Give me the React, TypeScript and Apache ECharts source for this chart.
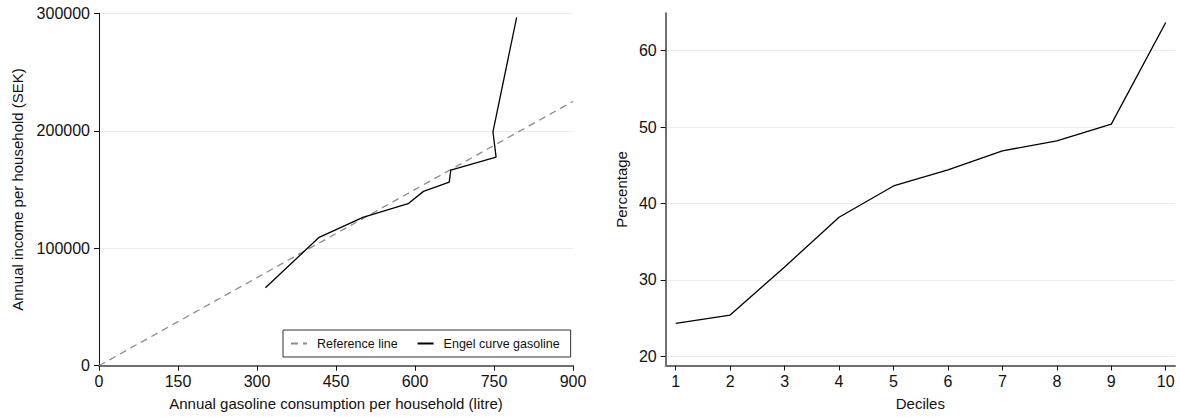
import React, { useEffect, useRef } from "react";
import * as echarts from "echarts";

const refLine: [number, number][] = [
  [0, 0],
  [900, 225000],
];
const engelX = [316, 418, 501, 587, 616, 665, 668, 754, 748, 793];
const engelY = [66400, 109300, 126300, 137900, 148400, 156300, 166500, 177600, 199100, 296500];

const deciles = [1, 2, 3, 4, 5, 6, 7, 8, 9, 10];
const percentage = [24.3, 25.4, 31.7, 38.2, 42.3, 44.4, 46.9, 48.2, 50.4, 63.7];
const pctTicks = [20, 30, 40, 50, 60];

const FONT = "Liberation Sans, Arial, Helvetica, sans-serif";
const GRID_COLOR = "#ececec";
const AXIS_GRAY = "#707070";

export default function App() {
  const ref = useRef<HTMLDivElement>(null);
  useEffect(() => {
    if (!ref.current) return;
    const chart = echarts.init(ref.current, undefined, { renderer: "svg" });
    const engel = engelX.map((x, i) => [x, engelY[i]]);
    const pct = deciles.map((d, i) => [d, percentage[i]]);
    const plain = (v: number) => String(v);
    const tickLabel = { color: "#111", fontSize: 16, fontFamily: FONT, formatter: plain };
    const nameStyle = { color: "#111", fontSize: 15, fontFamily: FONT };
    chart.setOption({
      animation: false,
      backgroundColor: "#fff",
      textStyle: { fontFamily: FONT },
      grid: [
        { left: 99, right: 607, top: 13.3, bottom: 51.3, containLabel: false },
        { left: 665.7, right: 5, top: 13.3, bottom: 51.5, containLabel: false },
      ],
      legend: {
        left: 283,
        top: 330,
        padding: [7, 11, 7, 7],
        itemGap: 19,
        itemWidth: 16,
        itemHeight: 10,
        borderColor: "#333",
        borderWidth: 1,
        itemStyle: { opacity: 0 },
        textStyle: { color: "#111", fontSize: 12.5, fontFamily: FONT, padding: [0, 0, 0, 5] },
        data: ["Reference line", "Engel curve gasoline"],
      },
      xAxis: [
        {
          type: "value",
          gridIndex: 0,
          min: 0,
          max: 900,
          interval: 150,
          name: "Annual gasoline consumption per household (litre)",
          nameLocation: "middle",
          nameGap: 30,
          nameTextStyle: nameStyle,
          axisLine: { show: true, lineStyle: { color: AXIS_GRAY, width: 2 } },
          axisTick: { show: true, length: 5, lineStyle: { color: "#111" } },
          axisLabel: { ...tickLabel, margin: 8 },
          splitLine: { show: false },
        },
        {
          type: "value",
          gridIndex: 1,
          min: 0.816,
          max: 10.17,
          name: "Deciles",
          nameLocation: "middle",
          nameGap: 30,
          nameTextStyle: nameStyle,
          axisLine: { show: true, lineStyle: { color: AXIS_GRAY, width: 2 } },
          axisTick: { show: true, length: 5, lineStyle: { color: "#111" }, customValues: deciles },
          axisLabel: { ...tickLabel, margin: 8, customValues: deciles },
          splitLine: { show: false },
        },
      ],
      yAxis: [
        {
          type: "value",
          gridIndex: 0,
          min: 0,
          max: 300000,
          interval: 100000,
          name: "Annual income per household (SEK)",
          nameLocation: "middle",
          nameGap: 74,
          nameTextStyle: nameStyle,
          axisLine: { show: true, lineStyle: { color: "#111", width: 1 } },
          axisTick: { show: true, length: 5, lineStyle: { color: "#111" } },
          axisLabel: { ...tickLabel, margin: 9 },
          splitLine: { show: true, lineStyle: { color: GRID_COLOR, width: 1 } },
        },
        {
          type: "value",
          gridIndex: 1,
          min: 18.8,
          max: 64.9,
          name: "Percentage",
          nameLocation: "middle",
          nameGap: 37,
          nameTextStyle: nameStyle,
          axisLine: { show: true, lineStyle: { color: AXIS_GRAY, width: 2 } },
          axisTick: { show: true, length: 5, lineStyle: { color: "#111" }, customValues: pctTicks },
          axisLabel: { ...tickLabel, margin: 9, customValues: pctTicks },
          splitLine: { show: true, lineStyle: { color: GRID_COLOR, width: 1 } },
        },
      ],
      series: [
        {
          name: "Reference line",
          type: "line",
          xAxisIndex: 0,
          yAxisIndex: 0,
          data: refLine,
          symbol: "none",
          lineStyle: { color: "#8c8c8c", width: 1.3, type: [7, 5] },
          itemStyle: { color: "#8c8c8c" },
          z: 2,
        },
        {
          name: "Engel curve gasoline",
          type: "line",
          xAxisIndex: 0,
          yAxisIndex: 0,
          data: engel,
          symbol: "none",
          lineStyle: { color: "#000", width: 1.3 },
          itemStyle: { color: "#000" },
          z: 3,
        },
        {
          name: "Percentage",
          type: "line",
          xAxisIndex: 1,
          yAxisIndex: 1,
          data: pct,
          symbol: "none",
          lineStyle: { color: "#000", width: 1.3 },
          itemStyle: { color: "#000" },
        },
      ],
    });
    return () => chart.dispose();
  }, []);
  return (
    <div
      ref={ref}
      style={{ position: "absolute", left: 0, top: 0, width: 1180, height: 417, background: "#fff" }}
    />
  );
}
